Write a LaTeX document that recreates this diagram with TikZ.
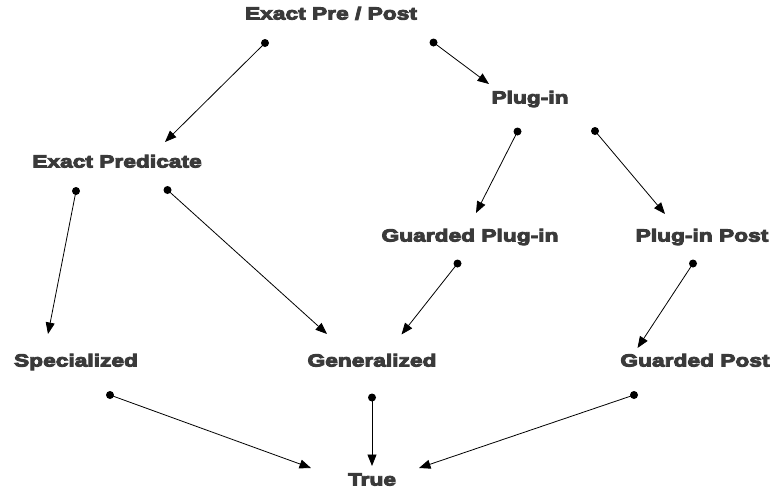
\documentclass[tikz,border=0pt]{standalone}
\usepackage{fontspec}
\newfontfamily\lblfont[FakeStretch=1.3,FakeBold=5.5]{Liberation Sans Bold}
\usetikzlibrary{arrows.meta}
\definecolor{lbl}{HTML}{3A3A3A}
\tikzset{
  lattice/.style={font=\lblfont\fontsize{17.5}{19}\selectfont, text=lbl, inner sep=0pt, anchor=base},
  rel/.style={draw=black, line width=0.8pt, -{Triangle[length=11.5pt,width=9pt]}},
  port/.style={fill=black, radius=4pt}
}
\begin{document}
\begin{tikzpicture}[x=1pt,y=-1pt]
\useasboundingbox (0,0) rectangle (774,493);

% matching levels
\node[lattice] (epp) at (331,19.5)   {Exact Pre / Post};
\node[lattice] (pin) at (530,103.5)  {Plug-in};
\node[lattice] (ep)  at (117,167.5)  {Exact Predicate};
\node[lattice] (gpi) at (470,241.5)  {Guarded Plug-in};
\node[lattice] (pip) at (702,241.5)  {Plug-in Post};
\node[lattice] (spc) at (76,366.5)   {Specialized};
\node[lattice] (gen) at (372,366.5)  {Generalized};
\node[lattice] (gp)  at (695,366.5)  {Guarded Post};
\node[lattice] (tru) at (372,485.5)  {True};

% outgoing ports (dots) and incoming ports (tips)
\coordinate (epp-a) at (265,43);     \coordinate (ep-in)   at (165,142);
\coordinate (epp-b) at (433.5,42.5); \coordinate (pin-in)  at (489,84);
\coordinate (pin-a) at (517.5,131.5);\coordinate (gpi-in)  at (476,213);
\coordinate (pin-b) at (595,131);    \coordinate (pip-in)  at (665,214);
\coordinate (ep-a)  at (76,191);     \coordinate (spc-in)  at (48,334);
\coordinate (ep-b)  at (167.5,190);  \coordinate (gen-inl) at (327,334);
\coordinate (gpi-a) at (457.5,263.5);\coordinate (gen-inr) at (401.5,334.5);
\coordinate (pip-a) at (693,263.5);  \coordinate (gp-in)   at (637.5,348);
\coordinate (spc-a) at (110,395);    \coordinate (tru-inl) at (311,468);
\coordinate (gen-a) at (372,397.5);  \coordinate (tru-inc) at (372,466);
\coordinate (gp-a)  at (634,395);    \coordinate (tru-inr) at (419,468);

\foreach \s/\t in {epp-a/ep-in, epp-b/pin-in, pin-a/gpi-in, pin-b/pip-in,
                   ep-a/spc-in, ep-b/gen-inl, gpi-a/gen-inr, pip-a/gp-in,
                   spc-a/tru-inl, gen-a/tru-inc, gp-a/tru-inr}{
  \draw[rel] (\s) -- (\t);
  \fill[port] (\s) circle;
}
\end{tikzpicture}
\end{document}
